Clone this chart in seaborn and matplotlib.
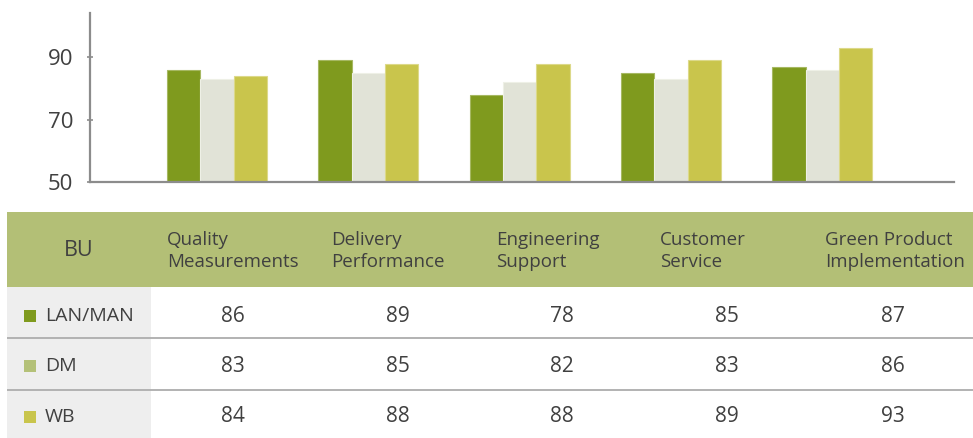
import matplotlib
matplotlib.use("Agg")
import matplotlib.pyplot as plt
import matplotlib.patches as mpatches
import pandas as pd
import seaborn as sns

# --- data -------------------------------------------------------------
categories = ["Quality Measurements", "Delivery Performance", "Engineering Support",
              "Customer Service", "Green Product Implementation"]
header_labels = ["Quality\nMeasurements", "Delivery\nPerformance", "Engineering\nSupport",
                 "Customer\nService", "Green Product\nImplementation"]
series_names = ["LAN/MAN", "DM", "WB"]
lan_man = [86, 89, 78, 85, 87]
dm = [83, 85, 82, 83, 86]
wb = [84, 88, 88, 89, 93]
y_ticks = [50, 70, 90]

# --- style ------------------------------------------------------------
bar_colors = ["#7f9a1e", "#e1e3d7", "#c9c54c"]
edge_colors = ["#a6b862", "#eef0e6", "#dcd98a"]
swatch_colors = ["#7f9a1e", "#b4c178", "#c9c54c"]
text_color = "#404040"

sns.set_theme(style="white")
plt.rcParams["font.family"] = ["Open Sans", "DejaVu Sans"]

W, H = 973, 438
fig = plt.figure(figsize=(W / 100, H / 100), dpi=100)

df = pd.DataFrame({
    "category": categories * 3,
    "series": sum([[s] * len(categories) for s in series_names], []),
    "value": lan_man + dm + wb,
})

# --- bar chart --------------------------------------------------------
ax_l, ax_r, ax_b, ax_t = 90, 954, 182, 13
ax = fig.add_axes([ax_l / W, 1 - ax_b / H, (ax_r - ax_l) / W, (ax_b - ax_t) / H])
sns.barplot(data=df, x="category", y="value", hue="series", order=categories,
            hue_order=series_names, palette=bar_colors, width=0.66, gap=0,
            saturation=1, legend=False, ax=ax, linewidth=0)

for container, ec in zip(ax.containers, edge_colors):
    for bar in container:
        bar.set_edgecolor(ec)
        bar.set_linewidth(0.8)

ax.set_ylim(50, 104.2)
ax.set_xlim(-0.84, len(categories) - 0.13)
ax.set_yticks(y_ticks)
ax.set_xticks([])
ax.set_xlabel("")
ax.set_ylabel("")
for side in ("top", "right"):
    ax.spines[side].set_visible(False)
for side in ("left", "bottom"):
    ax.spines[side].set_color("#8c8c8c")
    ax.spines[side].set_linewidth(1.6)
ax.tick_params(axis="y", direction="inout", length=4, width=1.2, color="#8c8c8c",
               pad=10, labelsize=16, labelcolor=text_color, left=True)

# --- data table -------------------------------------------------------
tx = fig.add_axes([0, 0, 1, 1], zorder=-1)
tx.set_xlim(0, W)
tx.set_ylim(H, 0)
tx.axis("off")

table_left = 7
header_top, header_bot = 212, 287
row_edges = [287, 338, 390, 438]
first_col_right = 151

tx.add_patch(mpatches.Rectangle((table_left, header_top), W - table_left,
                                header_bot - header_top, color="#b3bf76", lw=0))
tx.add_patch(mpatches.Rectangle((table_left, row_edges[0]), first_col_right - table_left,
                                row_edges[-1] - row_edges[0], color="#eeeeee", lw=0))
for y in row_edges[1:-1]:
    tx.plot([table_left, W], [y, y], color="#adadad", lw=1.3, solid_capstyle="butt")

tx.text(79, 250, "BU", ha="center", va="center", fontsize=15.5, color=text_color)
header_x = [167, 331, 496, 660, 825]
for x, lab in zip(header_x, header_labels):
    tx.text(x, 251, lab, ha="left", va="center", fontsize=13.5, color=text_color,
            linespacing=1.35)

value_x = [233, 398, 562, 727, 893]
row_y = [316, 366, 417]
for ry, name, sw, vals in zip(row_y, series_names, swatch_colors, [lan_man, dm, wb]):
    tx.add_patch(mpatches.Rectangle((24, ry - 6), 12, 12, color=sw, lw=0))
    tx.text(45, ry, name, ha="left", va="center", fontsize=14, color=text_color)
    for x, v in zip(value_x, vals):
        tx.text(x, ry, f"{v}", ha="center", va="center", fontsize=15, color=text_color)

fig.savefig("out.png", dpi=100, facecolor="white")
